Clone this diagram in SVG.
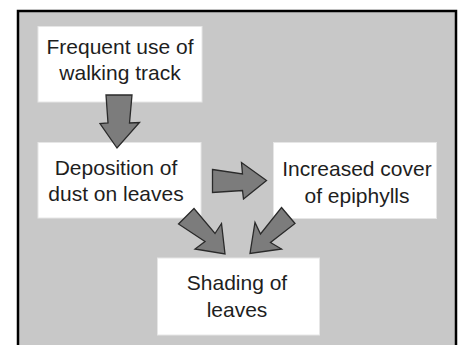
<svg xmlns="http://www.w3.org/2000/svg" width="464" height="345" viewBox="0 0 464 345">
  <style>
    .node rect { fill: #ffffff; stroke: #e6e6e6; stroke-width: 1; }
    .node text { font-family: "Liberation Sans", Arial, sans-serif; font-size: 21px; fill: #1e1e1e; text-anchor: middle; }
    .arrow { fill: #7c7c7c; stroke: #2a2a2a; stroke-width: 1.3; stroke-linejoin: miter; }
  </style>
  <rect x="0" y="0" width="464" height="345" fill="#ffffff"/>
  <rect id="frame" x="18" y="11" width="438" height="360" fill="#c8c8c8" stroke="#000000" stroke-width="2.5"/>

  <g id="node-frequent-use" class="node">
    <rect x="38" y="26.5" width="164" height="75.5"/>
    <text x="120" y="53.5">Frequent use of</text>
    <text x="120" y="80">walking track</text>
  </g>

  <g id="node-deposition" class="node">
    <rect x="38" y="142.5" width="163" height="75.5"/>
    <text x="116" y="175">Deposition of</text>
    <text x="116" y="201">dust on leaves</text>
  </g>

  <g id="node-epiphylls" class="node">
    <rect x="273.5" y="142.5" width="163" height="76"/>
    <text x="357" y="176">Increased cover</text>
    <text x="357" y="203">of epiphylls</text>
  </g>

  <g id="node-shading" class="node">
    <rect x="157.5" y="258" width="162" height="77"/>
    <text x="237" y="290">Shading of</text>
    <text x="237" y="317">leaves</text>
  </g>

  <g id="connectors">
    <polygon class="arrow" points="106,95 132,95 129.5,123 139.5,122.5 117,148 100,123.5 108,123"/>
    <polygon class="arrow" points="212.5,169.5 242.5,174 241.5,162.5 266.5,180.5 243.5,199 242.5,190.5 212.5,192.5"/>
    <polygon class="arrow" points="178.5,224 194,208.5 215,233.5 221.5,223.5 225,254 195,249 205,241.5"/>
    <polygon class="arrow" points="281.5,207.5 295,223.5 270.5,242.5 281.5,249 250,253.5 255,222.5 260.5,234"/>
  </g>
</svg>
